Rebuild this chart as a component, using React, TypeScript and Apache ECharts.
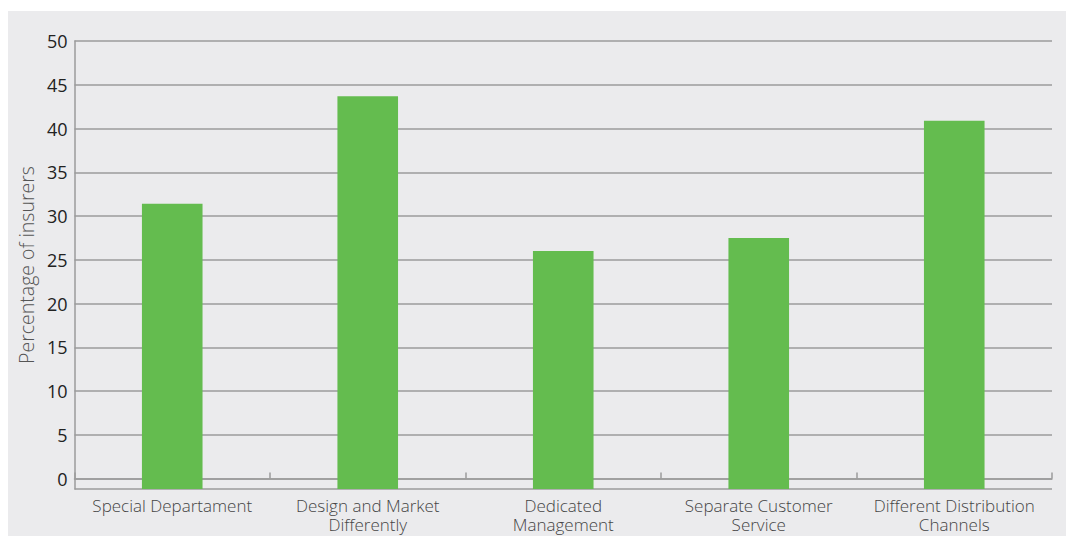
import React, { useEffect, useRef } from "react";
import * as echarts from "echarts";

const categories = [
  "Special Departament",
  "Design and Market\nDifferently",
  "Dedicated\nManagement",
  "Separate Customer\nService",
  "Different Distribution\nChannels",
];
const percentages = [31.4, 43.7, 26.0, 27.5, 40.9];
const yAxisTitle = "Percentage of insurers";
const yMax = 50;
const yStep = 5;

const FONT = "'Open Sans', 'Noto Sans', sans-serif";
const GRID_GRAY = "#9b9b9b";

export default function App() {
  const ref = useRef<HTMLDivElement>(null);

  useEffect(() => {
    if (!ref.current) return;
    const chart = echarts.init(ref.current, undefined, { renderer: "svg" });
    chart.setOption({
      animation: false,
      backgroundColor: "#ebebed",
      textStyle: { fontFamily: FONT },
      grid: { left: 66, right: 14, top: 30, bottom: 47, containLabel: false },
      xAxis: {
        type: "category",
        data: categories,
        axisLine: { show: true, lineStyle: { color: GRID_GRAY, width: 1.5 } },
        axisTick: { show: true, inside: true, length: 6, lineStyle: { color: GRID_GRAY, width: 1.5 } },
        axisLabel: {
          interval: 0,
          color: "#454545",
          fontSize: 17,
          fontWeight: 300,
          lineHeight: 19,
          margin: 7,
          fontFamily: FONT,
        },
        splitLine: { show: false },
      },
      yAxis: {
        type: "value",
        min: -1.2,
        max: yMax,
        startValue: -1.2,
        splitNumber: 10,
        name: yAxisTitle,
        nameLocation: "middle",
        nameGap: 34,
        nameRotate: 90,
        nameTextStyle: { color: "#555", fontSize: 19.5, fontWeight: 300, fontFamily: FONT },
        axisLine: { show: true, lineStyle: { color: GRID_GRAY, width: 1.5 } },
        axisTick: { show: false },
        axisLabel: {
          showMinLabel: false,
          color: "#222",
          fontSize: 18,
          margin: 7,
          fontFamily: FONT,
          formatter: (v: number) => (v % yStep === 0 ? String(v) : ""),
        },
        splitLine: { show: true, lineStyle: { color: GRID_GRAY, width: 1.5 } },
      },
      series: [
        {
          type: "bar",
          data: percentages,
          barWidth: "31%",
          itemStyle: { color: "#64bc4f" },
        },
      ],
    });
    return () => chart.dispose();
  }, []);

  return (
    <div
      ref={ref}
      style={{ position: "absolute", left: 8, top: 11, width: 1058, height: 525 }}
    />
  );
}
